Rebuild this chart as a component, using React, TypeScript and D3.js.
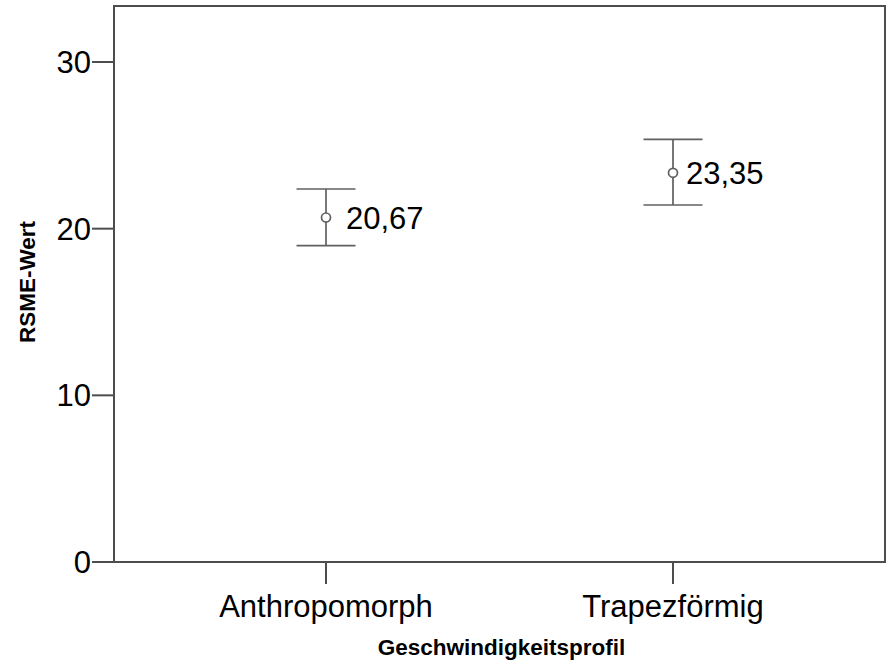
import React from "react";
import * as d3 from "d3";

const categories = ["Anthropomorph", "Trapezförmig"];
const means = [20.67, 23.35];
const lowerCI = [18.98, 21.42];
const upperCI = [22.38, 25.36];
const meanLabels = ["20,67", "23,35"];
const yTicks = [0, 10, 20, 30];

const W = 886;
const H = 663;
const left = 114;
const right = 885;
const top = 6;
const bottom = 562;
const labelOffsets = [20, 13];
const FONT = "'Liberation Sans', Arial, Helvetica, sans-serif";

export default function App() {
  const x = d3.scalePoint<string>().domain(categories).range([left, right]).padding(0.611);
  const y = d3.scaleLinear().domain([0, 33.36]).range([bottom, top]);
  const capHalf = 29.5;
  const lineColor = "#4d4d4d";
  return (
    <svg width={W} height={H} style={{ position: "fixed", left: 0, top: 0 }} fontFamily={FONT}>
      <rect x={0} y={0} width={W} height={H} fill="#fff" />
      {/* frame */}
      <rect x={left} y={top} width={right - left} height={bottom - top} fill="none" stroke={lineColor} strokeWidth={2} />
      {/* y ticks */}
      {yTicks.map((t) => (
        <g key={t}>
          <line x1={left - 22} x2={left} y1={y(t)} y2={y(t)} stroke={lineColor} strokeWidth={2} />
          <text x={left - 23} y={y(t)} dy="0.36em" textAnchor="end" fontSize={31} fill="#000">
            {t}
          </text>
        </g>
      ))}
      {/* x ticks */}
      {categories.map((c) => (
        <g key={c}>
          <line x1={x(c)!} x2={x(c)!} y1={bottom} y2={bottom + 22} stroke={lineColor} strokeWidth={2} />
          <text x={x(c)!} y={617} textAnchor="middle" fontSize={31} fill="#000">
            {c}
          </text>
        </g>
      ))}
      {/* error bars */}
      {categories.map((c, i) => {
        const cx = x(c)!;
        return (
          <g key={"eb" + c} stroke="#606060" strokeWidth={1.7} fill="none">
            <line x1={cx} x2={cx} y1={y(upperCI[i])} y2={y(lowerCI[i])} />
            <line x1={cx - capHalf} x2={cx + capHalf} y1={y(upperCI[i])} y2={y(upperCI[i])} />
            <line x1={cx - capHalf} x2={cx + capHalf} y1={y(lowerCI[i])} y2={y(lowerCI[i])} />
            <circle cx={cx} cy={y(means[i])} r={4.5} fill="#fff" />
            <text
              x={cx + labelOffsets[i]}
              y={y(means[i])}
              dy="0.36em"
              fontSize={31}
              fill="#000"
              stroke="none"
            >
              {meanLabels[i]}
            </text>
          </g>
        );
      })}
      {/* axis titles */}
      <text x={(left + right) / 2 + 2} y={655} textAnchor="middle" fontSize={22.5} fontWeight="bold" fill="#000">
        Geschwindigkeitsprofil
      </text>
      <text
        transform={`translate(35, ${(top + bottom) / 2 - 2}) rotate(-90)`}
        textAnchor="middle"
        fontSize={22.5}
        fontWeight="bold"
        fill="#000"
      >
        RSME-Wert
      </text>
    </svg>
  );
}
